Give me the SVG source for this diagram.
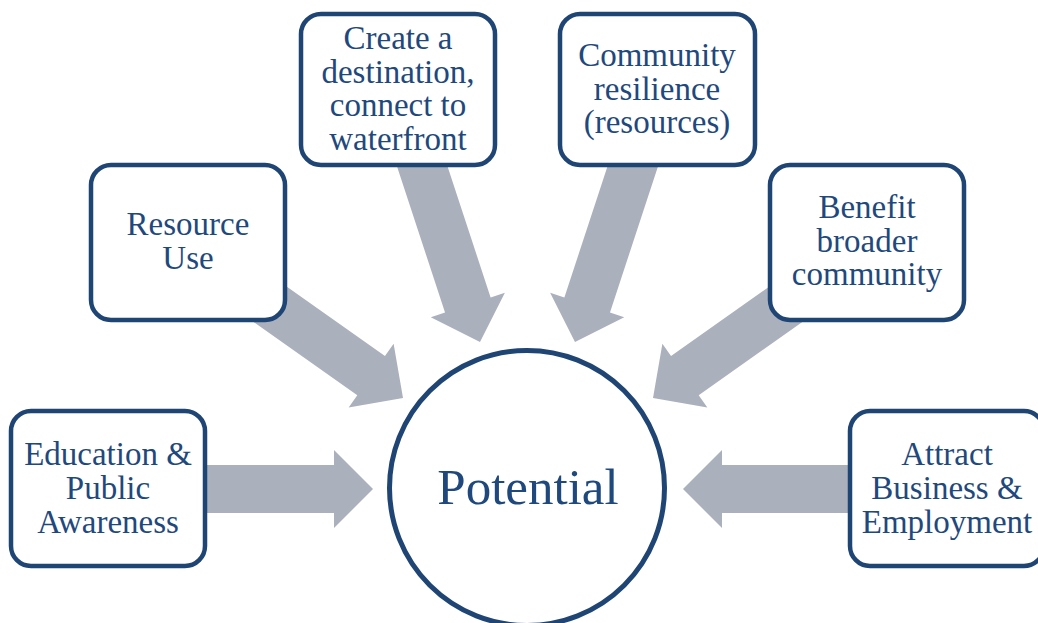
<svg xmlns="http://www.w3.org/2000/svg" width="1038" height="623" viewBox="0 0 1038 623">
  <defs>
    <style>
      .box { fill: #ffffff; stroke: #1f4575; stroke-width: 4.5; }
      .arrow { fill: #abb0bd; stroke: none; }
      .lbl { font-family: "Liberation Serif", "Times New Roman", serif; font-size: 33px; fill: #1f497d; text-anchor: middle; }
      .big { font-size: 51px; }
    </style>
    <polygon id="arr" points="0,0 -39,-39 -39,-24 -200,-24 -200,24 -39,24 -39,39"/>
  </defs>
  <rect width="1038" height="623" fill="#ffffff"/>
  <g id="connectors" class="arrow">
    <use href="#arr" transform="translate(373,489)"/>
    <use href="#arr" transform="translate(403,398) rotate(35.2)"/>
    <use href="#arr" transform="translate(480,342) rotate(71.8)"/>
    <use href="#arr" transform="translate(575,342) rotate(108.2)"/>
    <use href="#arr" transform="translate(653,398) rotate(144.8)"/>
    <use href="#arr" transform="translate(683,489) rotate(180)"/>
  </g>
  <g id="node-potential">
    <circle cx="527" cy="488" r="137.5" fill="#ffffff" stroke="#1f4575" stroke-width="5"/>
    <text class="lbl big" x="528" y="504">Potential</text>
  </g>
  <g id="node-education">
    <rect class="box" x="11" y="411" width="194" height="155" rx="20"/>
    <text class="lbl" x="108" y="465">Education &amp;</text>
    <text class="lbl" x="108" y="499">Public</text>
    <text class="lbl" x="108" y="533">Awareness</text>
  </g>
  <g id="node-resource">
    <rect class="box" x="91" y="165" width="194" height="155" rx="20"/>
    <text class="lbl" x="188" y="235">Resource</text>
    <text class="lbl" x="188" y="269">Use</text>
  </g>
  <g id="node-destination">
    <rect class="box" x="301" y="14" width="194" height="151" rx="20"/>
    <text class="lbl" x="398" y="49">Create a</text>
    <text class="lbl" x="398" y="83">destination,</text>
    <text class="lbl" x="398" y="116">connect to</text>
    <text class="lbl" x="398" y="150">waterfront</text>
  </g>
  <g id="node-resilience">
    <rect class="box" x="560" y="14" width="195" height="151" rx="20"/>
    <text class="lbl" x="657" y="66">Community</text>
    <text class="lbl" x="657" y="100">resilience</text>
    <text class="lbl" x="657" y="133">(resources)</text>
  </g>
  <g id="node-benefit">
    <rect class="box" x="770" y="165" width="194" height="155" rx="20"/>
    <text class="lbl" x="867" y="218">Benefit</text>
    <text class="lbl" x="867" y="252">broader</text>
    <text class="lbl" x="867" y="285">community</text>
  </g>
  <g id="node-attract">
    <rect class="box" x="850" y="411" width="194" height="155" rx="20"/>
    <text class="lbl" x="947" y="465">Attract</text>
    <text class="lbl" x="947" y="499">Business &amp;</text>
    <text class="lbl" x="947" y="533">Employment</text>
  </g>
</svg>
